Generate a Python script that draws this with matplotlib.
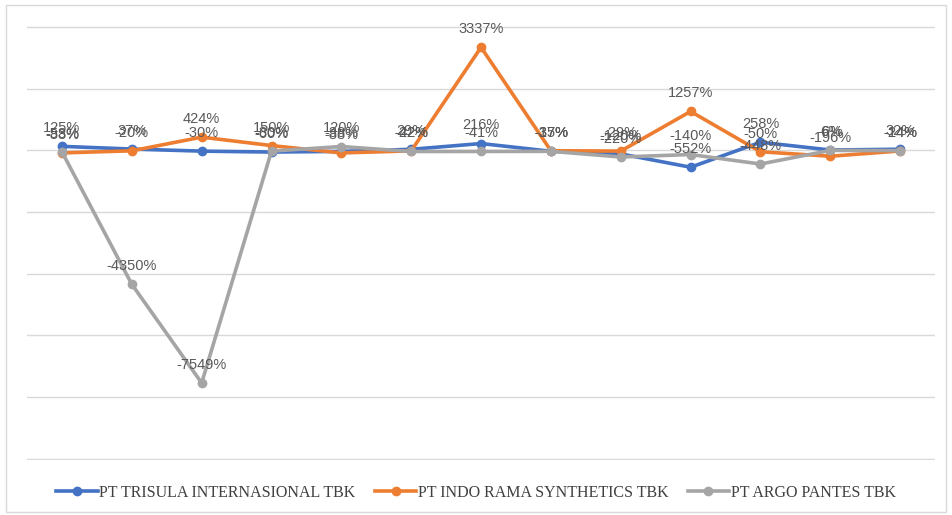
import matplotlib.pyplot as plt
from matplotlib.patches import Rectangle

# growth of net profit per period, in percent
periods = list(range(1, 14))
trisula = [125, 37, -30, -60, -38, 29, 216, -35, -120, -552, 258, 6, 32]
indorama = [-88, -20, 424, 150, -88, -22, 3337, -17, -29, 1257, -50, -196, -24]
argo = [-53, -4350, -7549, -30, 120, -42, -41, -37, -220, -140, -448, -6, -14]

series = [
    ("PT TRISULA INTERNASIONAL TBK", trisula, "#4472C4"),
    ("PT INDO RAMA SYNTHETICS TBK", indorama, "#ED7D31"),
    ("PT ARGO PANTES TBK", argo, "#A5A5A5"),
]

fig = plt.figure(figsize=(9.52, 5.15), dpi=100)
ax = fig.add_axes([0.0284, 0.1067, 0.9538, 0.8429])

xs = list(range(len(periods)))
for name, vals, color in series:
    ax.plot(xs, vals, color=color, linewidth=2.6, marker="o", markersize=6,
            label=name, zorder=3)
    for x, v in zip(xs, vals):
        ax.annotate(f"{v}%", (x, v), xytext=(0, 13), textcoords="offset points",
                    ha="center", va="center", fontsize=10.5, color="#595959",
                    family="Liberation Sans", zorder=4)

ax.set_xlim(-0.5, len(periods) - 0.5)
ax.set_ylim(-10050, 4030)
ax.set_yticks(range(-10000, 4001, 2000))
ax.yaxis.grid(True, color="#D9D9D9", linewidth=1)
ax.set_axisbelow(True)
ax.tick_params(left=False, bottom=False, labelleft=False, labelbottom=False)
for s in ax.spines.values():
    s.set_visible(False)

leg = fig.legend(loc="center", bbox_to_anchor=(0.5, 0.043), ncol=3, frameon=False,
                 prop={"family": "Liberation Serif", "size": 11.5},
                 handlelength=2.6, columnspacing=1.2, handletextpad=0.1)
for t in leg.get_texts():
    t.set_color("#404040")

fig.patches.append(Rectangle((0.006, 0.006), 0.988, 0.985, transform=fig.transFigure,
                             fill=False, edgecolor="#D9D9D9", linewidth=1))

fig.savefig("out.png", dpi=100, facecolor="white")
